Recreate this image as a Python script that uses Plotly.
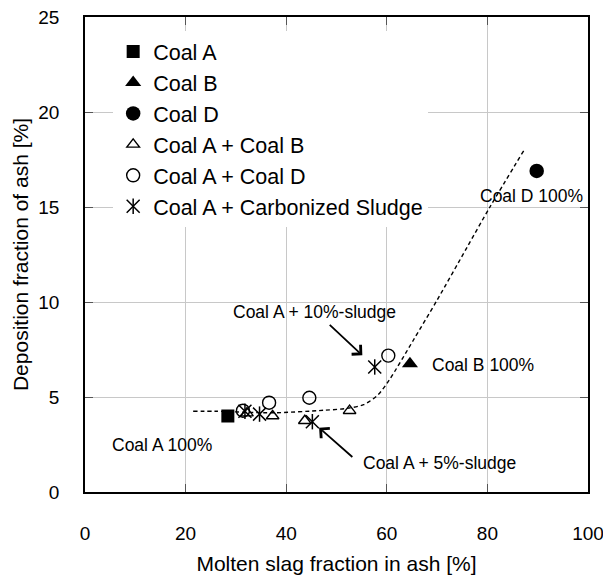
import plotly.graph_objects as go

# Single-coal results
coal_a_x = [28.4]
coal_a_y = [4.0]
coal_b_x = [64.6]
coal_b_y = [6.75]
coal_d_x = [89.8]
coal_d_y = [16.9]

# Blends
ab_x = [32.2, 37.3, 43.7, 52.6]
ab_y = [4.15, 4.0, 3.75, 4.28]
ad_x = [31.4, 36.6, 44.6, 60.3]
ad_y = [4.28, 4.7, 4.96, 7.18]
sludge_x = [31.8, 34.7, 45.2, 57.6]
sludge_y = [4.25, 4.1, 3.7, 6.58]

# Trend curve through the data
trend_x = [21.5, 26.0, 37.4, 47.4, 52.1, 55.4, 58.2, 60.5, 65.3, 70.0, 76.0, 80.5, 87.3]
trend_y = [4.25, 4.25, 4.17, 4.30, 4.40, 4.60, 5.10, 5.90, 8.00, 10.10, 12.90, 15.00, 18.00]

x_ticks = [0, 20, 40, 60, 80, 100]
y_ticks = [0, 5, 10, 15, 20, 25]

FONT = "Arial, Liberation Sans, sans-serif"
BLACK = "#000000"

fig = go.Figure()

fig.add_trace(go.Scatter(
    x=trend_x, y=trend_y, mode="lines", showlegend=False,
    line=dict(color=BLACK, width=1.4, dash="4px,3px", shape="spline", smoothing=0.8),
    hoverinfo="skip"))

fig.add_trace(go.Scatter(
    x=coal_a_x, y=coal_a_y, mode="markers", name="Coal A",
    marker=dict(symbol="square", size=13, color=BLACK)))
fig.add_trace(go.Scatter(
    x=coal_b_x, y=coal_b_y, mode="markers", name="Coal B",
    marker=dict(symbol="triangle-up", size=14, color=BLACK)))
fig.add_trace(go.Scatter(
    x=coal_d_x, y=coal_d_y, mode="markers", name="Coal D",
    marker=dict(symbol="circle", size=14.5, color=BLACK)))
fig.add_trace(go.Scatter(
    x=ab_x, y=ab_y, mode="markers", name="Coal A + Coal B",
    marker=dict(symbol="triangle-up-open", size=11, color=BLACK,
                line=dict(color=BLACK, width=1.4))))
fig.add_trace(go.Scatter(
    x=ad_x, y=ad_y, mode="markers", name="Coal A + Coal D",
    marker=dict(symbol="circle-open", size=13, color=BLACK,
                line=dict(color=BLACK, width=1.4))))
# Star marker = diagonal cross + vertical bar
fig.add_trace(go.Scatter(
    x=sludge_x, y=sludge_y, mode="markers", name="Coal A + Carbonized Sludge",
    marker=dict(symbol="x-thin-open", size=13, color=BLACK,
                line=dict(color=BLACK, width=1.5))))
fig.add_trace(go.Scatter(
    x=sludge_x, y=sludge_y, mode="markers", name=" ", legend="legend2",
    marker=dict(symbol="line-ns-open", size=11, color=BLACK,
                line=dict(color=BLACK, width=1.5))))

axis_common = dict(
    showline=True, linecolor=BLACK, linewidth=1.6, mirror="ticks",
    ticks="inside", ticklen=8, tickwidth=1, tickcolor="#555555",
    showgrid=True, gridcolor="#c8c8c8", gridwidth=1,
    zeroline=False, tickfont=dict(family=FONT, size=19, color=BLACK),
    ticklabeloverflow="allow", automargin=False,
)

fig.update_xaxes(
    range=[0, 100], tickvals=x_ticks, ticktext=[str(v) for v in x_ticks],
    ticklabelstandoff=23,
    title=dict(text="Molten slag fraction in ash [%]", standoff=14,
               font=dict(family=FONT, size=21, color=BLACK)),
    **axis_common)
fig.update_yaxes(
    range=[0, 25], tickvals=y_ticks, ticktext=[str(v) for v in y_ticks],
    ticklabelstandoff=20,
    title=dict(text="Deposition fraction of ash [%]", standoff=4,
               font=dict(family=FONT, size=21, color=BLACK)),
    **axis_common)

LEG_X = 0.056
LEG_Y = 0.9705
LEG_FONT = 21.5
entry_h = (LEG_FONT * 1.3 + 3) / 475.0

fig.update_layout(
    width=603, height=575,
    margin=dict(l=85, r=15, t=17, b=83, autoexpand=False),
    paper_bgcolor="white", plot_bgcolor="white",
    font=dict(family=FONT, color=BLACK),
    legend=dict(x=LEG_X, y=LEG_Y, xanchor="left", yanchor="top",
                bgcolor="white", borderwidth=0,
                font=dict(family=FONT, size=LEG_FONT, color=BLACK),
                tracegroupgap=0),
    legend2=dict(x=LEG_X, y=LEG_Y - 5 * entry_h, xanchor="left", yanchor="top",
                 bgcolor="rgba(0,0,0,0)", borderwidth=0,
                 font=dict(family=FONT, size=LEG_FONT, color=BLACK)),
)

ANN_FONT = dict(family=FONT, size=17.5, color=BLACK)

# Point labels
labels = [
    ("Coal A 100%", 4.9, 2.47),
    ("Coal B 100%", 68.5, 6.68),
    ("Coal D 100%", 78.2, 15.6),
    ("Coal A + 5%-sludge", 54.8, 1.51),
]
for text, lx, ly in labels:
    fig.add_annotation(x=lx, y=ly, text=text, showarrow=False,
                       xanchor="left", yanchor="middle", font=ANN_FONT)
fig.add_annotation(x=62.3, y=9.47, text="Coal A + 10%-sludge", showarrow=False,
                   xanchor="right", yanchor="middle", font=ANN_FONT)

# Arrows pointing at the sludge blends
fig.add_annotation(x=sludge_x[3], y=sludge_y[3], text=" ", showarrow=True,
                   ax=-48, ay=-45, arrowhead=4, arrowsize=1.4, arrowwidth=1.8,
                   arrowcolor=BLACK, standoff=17)
fig.add_annotation(x=sludge_x[2], y=sludge_y[2], text=" ", showarrow=True,
                   ax=43, ay=38, arrowhead=4, arrowsize=1.4, arrowwidth=1.8,
                   arrowcolor=BLACK, standoff=9)

fig.write_html("out.html")
